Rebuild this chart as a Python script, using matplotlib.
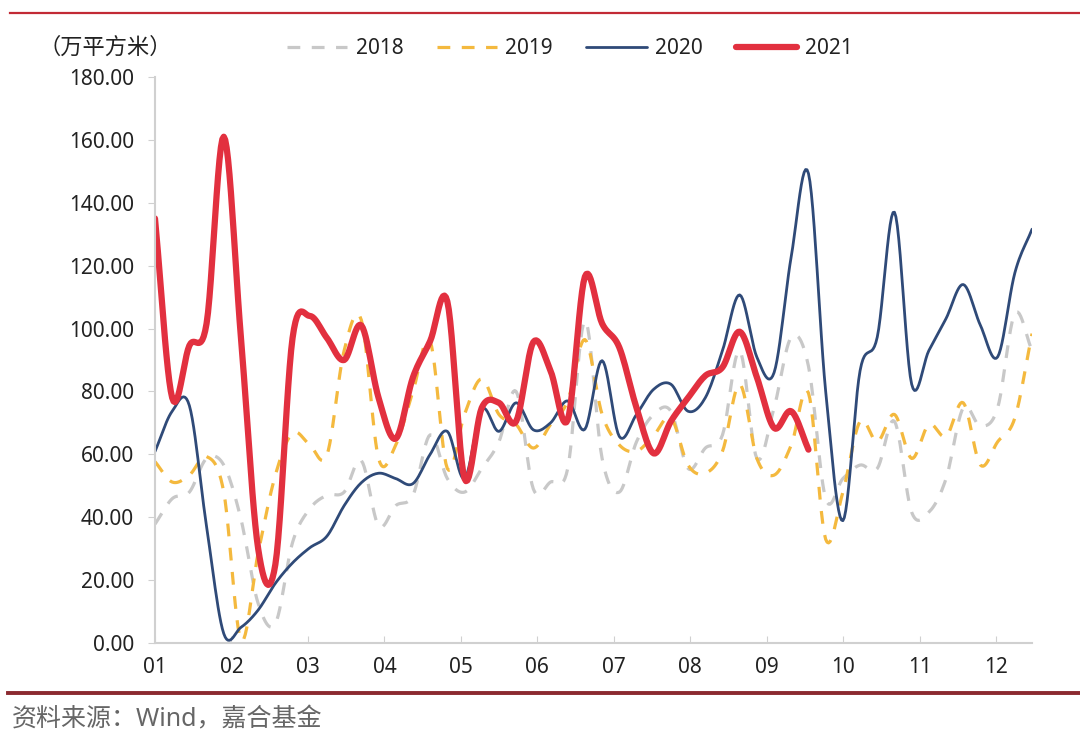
import numpy as np
import matplotlib.pyplot as plt
from matplotlib.lines import Line2D

plt.rcParams['font.family'] = ['Noto Sans', 'Noto Sans CJK SC', 'DejaVu Sans']

# weekly values, 万平方米
y2018 = [37.8, 45.9, 48.0, 58.7, 56.6, 39.4, 12.6, 6.2, 32.0, 42.7, 47.0, 48.0, 58.0,
         37.3, 43.7, 47.0, 66.2, 52.3, 48.0, 55.5, 64.0, 80.0, 49.0, 51.2, 55.5, 102.5,
         58.7, 48.0, 64.0, 72.7, 73.7, 55.5, 62.0, 66.2, 93.0, 58.7, 74.8, 97.3, 88.0,
         45.9, 52.3, 56.6, 55.5, 70.5, 41.6, 41.6, 52.3, 74.8, 69.0, 74.8, 104.8, 93.0]
y2019 = [57.7, 51.2, 53.4, 59.3, 48.0, 1.0, 28.7, 53.4, 66.8, 63.0, 59.8, 93.0, 102.7,
         58.7, 63.0, 80.0, 96.0, 55.5, 72.7, 84.0, 72.7, 69.5, 62.0, 69.5, 77.0, 96.5,
         72.7, 63.0, 61.0, 66.0, 71.6, 56.6, 54.0, 61.0, 82.3, 58.7, 53.4, 63.0, 79.5,
         33.0, 48.0, 70.5, 64.0, 72.7, 58.7, 69.5, 65.7, 76.4, 56.6, 64.0, 71.6, 98.4]
y2020 = [60.9, 73.7, 75.5, 37.0, 3.0, 5.0, 10.5, 19.0, 25.5, 30.3, 34.0, 43.7, 51.0,
         54.0, 52.3, 50.7, 60.0, 67.3, 52.3, 74.3, 67.3, 76.4, 67.8, 70.0, 77.0, 68.0,
         89.8, 65.7, 72.7, 80.7, 82.3, 73.7, 78.0, 93.0, 110.7, 90.9, 86.0, 123.0, 149.3,
         80.0, 38.9, 86.6, 97.3, 137.0, 82.3, 93.0, 103.2, 114.0, 101.0, 91.0, 117.7, 131.6]
y2021 = [135.0, 78.0, 94.6, 101.6, 161.0, 97.0, 30.0, 25.0, 97.0, 104.0, 97.0, 90.0, 101.0,
         78.0, 65.0, 84.5, 96.0, 108.6, 52.3, 74.8, 76.4, 70.5, 95.7, 86.6, 71.0, 116.5,
         101.6, 94.0, 74.8, 60.3, 70.5, 78.0, 85.0, 87.7, 99.0, 84.5, 68.4, 73.7, 61.5]

month_labels = ['01', '02', '03', '04', '05', '06', '07', '08', '09', '10', '11', '12']
yticks = [0, 20, 40, 60, 80, 100, 120, 140, 160, 180]


def smooth(y, n=12):
    # Catmull-Rom curve through the weekly points (like Excel's smoothed line)
    y = np.asarray(y, dtype=float)
    x = np.arange(len(y), dtype=float)
    p = np.concatenate([[2 * y[0] - y[1]], y, [2 * y[-1] - y[-2]]])
    xs, ys = [], []
    t = np.linspace(0, 1, n, endpoint=False)
    for i in range(len(y) - 1):
        p0, p1, p2, p3 = p[i], p[i + 1], p[i + 2], p[i + 3]
        seg = 0.5 * ((2 * p1) + (-p0 + p2) * t + (2 * p0 - 5 * p1 + 4 * p2 - p3) * t ** 2
                     + (-p0 + 3 * p1 - 3 * p2 + p3) * t ** 3)
        xs.append(x[i] + t)
        ys.append(seg)
    xs.append([x[-1]])
    ys.append([y[-1]])
    return np.concatenate(xs), np.concatenate(ys)


fig = plt.figure(figsize=(10.8, 7.4), dpi=100)
ax = fig.add_axes([0.1435, 0.131, 0.8121, 0.765])

styles = [
    ('2018', y2018, dict(color='#c8c8c8', lw=2.3, dashes=(4, 3.6))),
    ('2019', y2019, dict(color='#f4b93e', lw=2.3, dashes=(4, 3.6))),
    ('2020', y2020, dict(color='#2f4a78', lw=2.0)),
    ('2021', y2021, dict(color='#e2303f', lw=4.5)),
]
for name, vals, kw in styles:
    xs, ys = smooth(vals)
    ax.plot(xs, ys, label=name, solid_capstyle='round', **kw)

ax.set_xlim(0, 51)
ax.set_ylim(0, 180)
month_pos = np.arange(12) * 51 / 11.47
ax.set_xticks(month_pos)
ax.set_xticklabels(month_labels)
ax.set_yticks(yticks)
ax.set_yticklabels([f'{v:.2f}' for v in yticks])
ax.tick_params(axis='x', direction='in', length=5, color='#d0d0d0', labelsize=15,
               pad=10, labelcolor='#222222')
ax.tick_params(axis='y', direction='out', length=5, color='#d0d0d0', labelsize=15,
               pad=10, labelcolor='#222222')
for s in ['top', 'right']:
    ax.spines[s].set_visible(False)
for s in ['left', 'bottom']:
    ax.spines[s].set_color('#d0d0d0')
    ax.spines[s].set_linewidth(1.5)

leg = fig.legend(loc='center left', bbox_to_anchor=(287 / 1080, 1 - 49 / 740), ncol=4,
                 frameon=False, fontsize=15, handlelength=2.9, columnspacing=1.6,
                 handletextpad=0.4, borderpad=0, borderaxespad=0)
for t in leg.get_texts():
    t.set_color('#222222')

fig.text(38 / 1080, 1 - 48 / 740, '（万平方米）', fontsize=16, color='#222222',
         va='center')

fig.add_artist(Line2D([0.009, 1.0], [0.982, 0.982], color='#c22a35', lw=1.6))
fig.add_artist(Line2D([0.007, 1.0], [0.063, 0.063], color='#8b2a30', lw=2.8))
fig.text(0.011, 0.027, '资料来源：Wind，嘉合基金', fontsize=18, color='#666666', va='center')

fig.savefig('out.png', dpi=100)
